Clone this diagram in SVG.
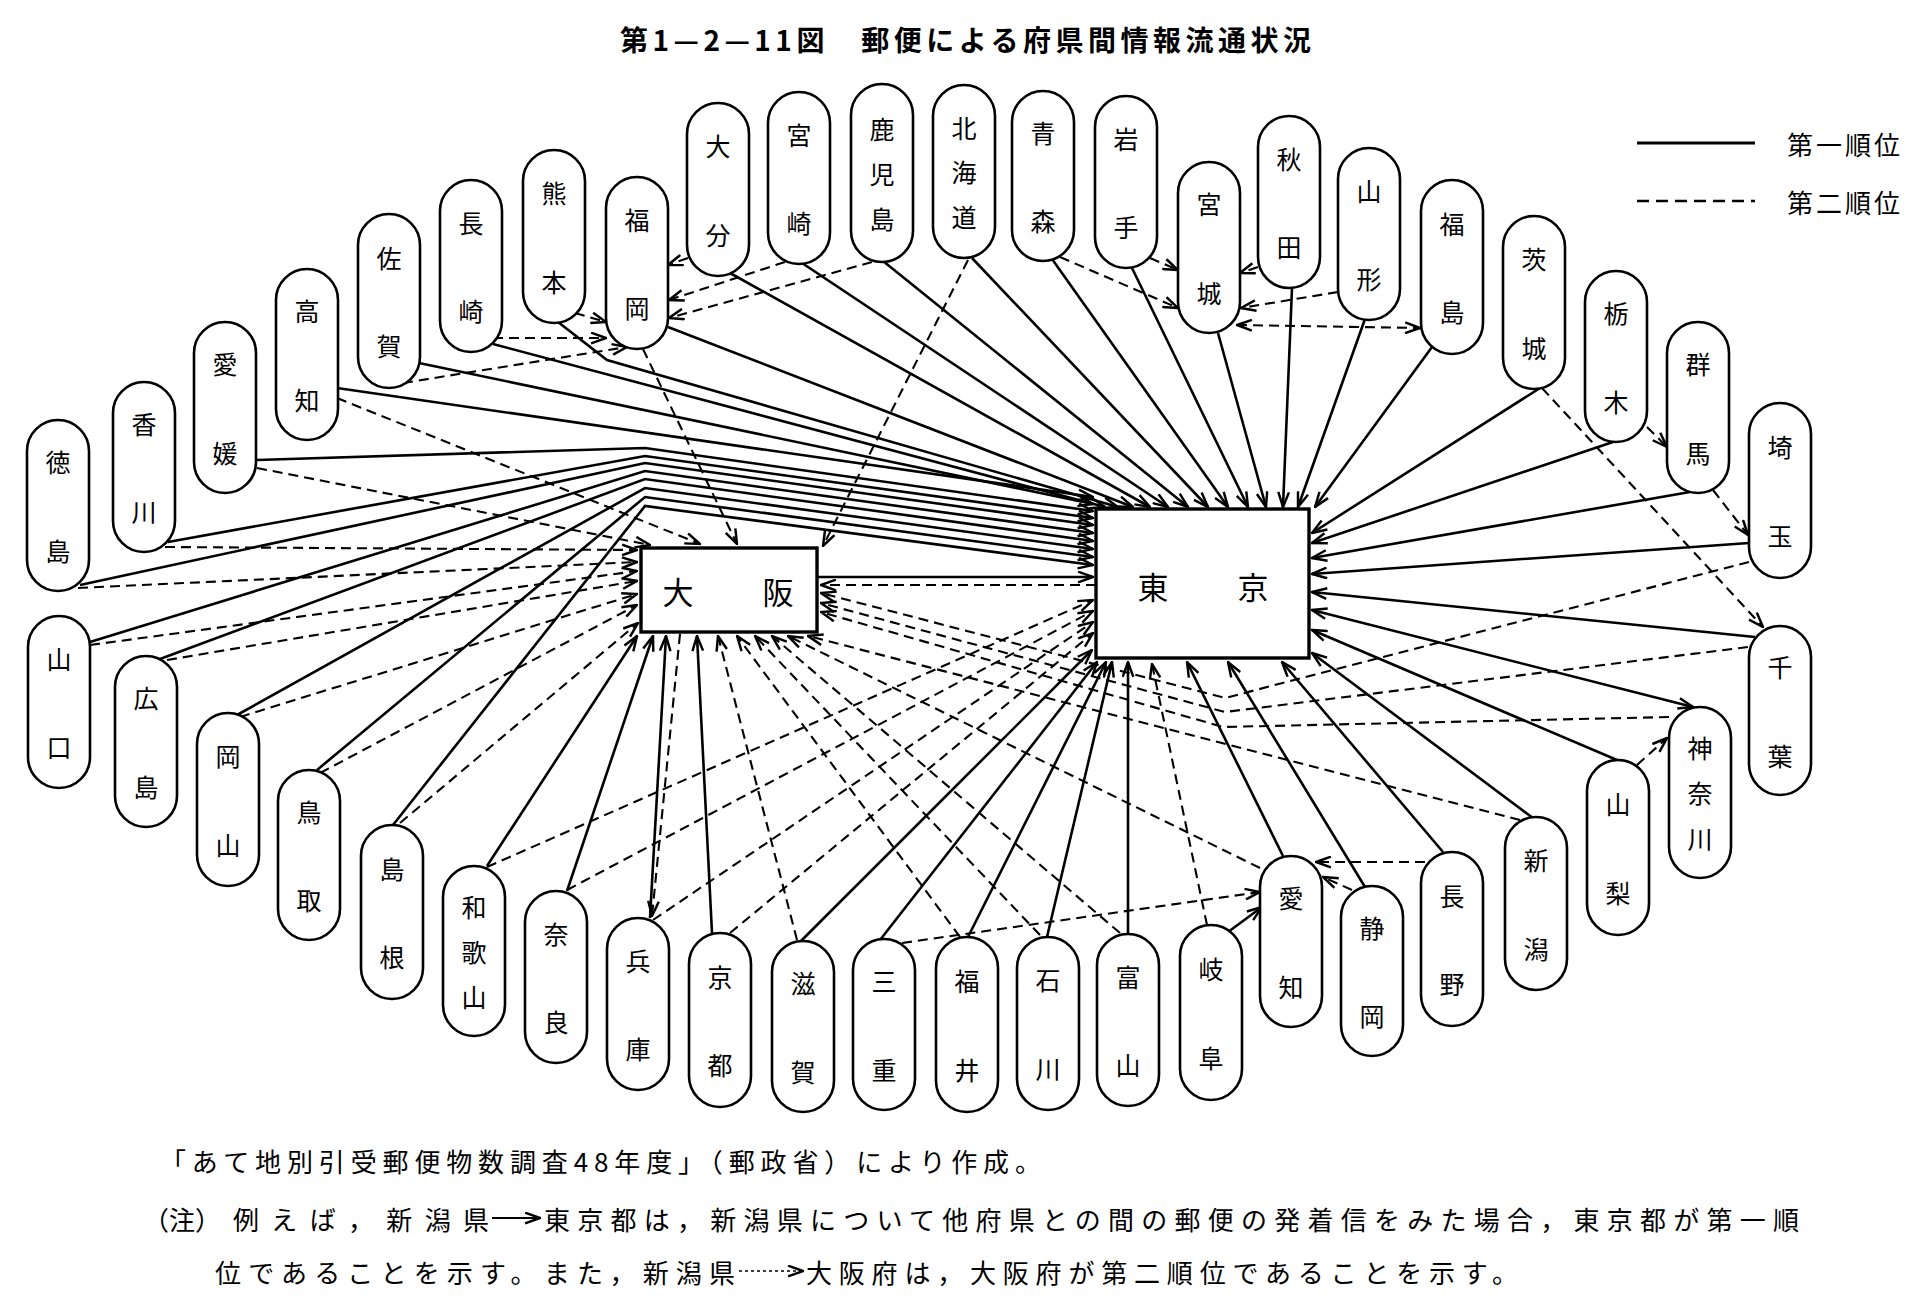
<svg xmlns="http://www.w3.org/2000/svg" width="1925" height="1309" viewBox="0 0 1925 1309">
<style>
.pill{fill:#fff;stroke:#000;stroke-width:2.6}
.box{fill:#fff;stroke:#000;stroke-width:3.4}
.lbl{font-family:"Noto Sans CJK JP",sans-serif;font-size:25px;text-anchor:middle;dominant-baseline:central;fill:#000}
.big{font-family:"Noto Sans CJK JP",sans-serif;font-size:31px;text-anchor:middle;dominant-baseline:central;fill:#000}
.txt{font-family:"Noto Sans CJK JP",sans-serif;font-size:26px;dominant-baseline:central;fill:#000}
.ttl{font-family:"Noto Sans CJK JP",sans-serif;font-size:28px;font-weight:700;dominant-baseline:central;fill:#000}
.s{fill:none;stroke:#000;stroke-width:2.6;marker-end:url(#a)}
.d{fill:none;stroke:#000;stroke-width:2.1;stroke-dasharray:10 6;marker-end:url(#a)}
.both{marker-start:url(#a)}
.ls{fill:none;stroke:#000;stroke-width:2.8}
.ld{fill:none;stroke:#000;stroke-width:2.6;stroke-dasharray:12 7}
</style>
<defs>
<marker id="a" viewBox="0 0 16 12" refX="15" refY="6" markerWidth="17" markerHeight="13" markerUnits="userSpaceOnUse" orient="auto-start-reverse">
<path d="M1,1 L15,6 L1,11" fill="none" stroke="#000" stroke-width="2.3"/>
</marker>
</defs>
<rect width="1925" height="1309" fill="#fff"/>
<text class="ttl" x="620" y="39" textLength="691" lengthAdjust="spacing">第1—2—11図　郵便による府県間情報流通状況</text>

<g id="legend">
<line class="ls" x1="1637" y1="143" x2="1755" y2="143"/>
<text class="txt" x="1787" y="143" font-size="24" textLength="113" lengthAdjust="spacing">第一順位</text>
<line class="ld" x1="1637" y1="201" x2="1755" y2="201"/>
<text class="txt" x="1787" y="201" font-size="24" textLength="113" lengthAdjust="spacing">第二順位</text>
</g>

<g id="connectors">
<path class="s" d="M337,388 L1093,497"/>
<path class="s" d="M419,363 L1093,504"/>
<path class="s" d="M257,460 L645,448 L1093,511"/>
<path class="s" d="M168,542 L645,456 L1093,518"/>
<path class="s" d="M80,585 L645,463 L1093,525"/>
<path class="s" d="M90,642 L645,471 L1093,533"/>
<path class="s" d="M160,659 L645,479 L1093,541"/>
<path class="s" d="M237,715 L645,488 L1093,549"/>
<path class="s" d="M317,770 L645,497 L1093,557"/>
<path class="s" d="M393,825 L645,506 L1093,565"/>
<path class="s" d="M818,577 L1093,577"/>
<path class="s" d="M493,344 L1105,507"/>
<path class="s" d="M558,322 L607,360 L1118,507"/>
<path class="s" d="M668,327 L1133,507"/>
<path class="s" d="M730,273 L1150,507"/>
<path class="s" d="M802,263 L1168,507"/>
<path class="s" d="M883,261 L1188,507"/>
<path class="s" d="M972,258 L1208,507"/>
<path class="s" d="M1052,259 L1228,507"/>
<path class="s" d="M1132,268 L1248,507"/>
<path class="s" d="M1218,333 L1266,507"/>
<path class="s" d="M1292,288 L1283,507"/>
<path class="s" d="M1365,319 L1298,507"/>
<path class="s" d="M1432,347 L1315,507"/>
<path class="s" d="M1540,388 L1312,533"/>
<path class="s" d="M1613,442 L1312,543"/>
<path class="s" d="M1690,492 L1312,558"/>
<path class="s" d="M1749,543 L1312,574"/>
<path class="s" d="M1755,637 L1312,592"/>
<path class="s both" d="M1693,707 L1312,610"/>
<path class="s" d="M1617,760 L1312,630"/>
<path class="s" d="M1533,818 L1312,653"/>
<path class="s" d="M1443,852 L1282,662"/>
<path class="s" d="M1365,887 L1228,662"/>
<path class="s" d="M1283,856 L1187,662"/>
<path class="s" d="M1128,934 L1128,662"/>
<path class="s" d="M1047,937 L1112,662"/>
<path class="s" d="M968,937 L1106,662"/>
<path class="s" d="M880,940 L1097,662"/>
<path class="s" d="M800,942 L1092,650"/>
<path class="s" d="M487,866 L637,636"/>
<path class="s" d="M567,891 L653,636"/>
<path class="s" d="M650,918 L666,636"/>
<path class="s" d="M712,933 L697,636"/>
<path class="s" d="M1228,932 L1262,907"/>

<path class="d" d="M337,398 L700,544"/>
<path class="d" d="M257,468 L650,545"/>
<path class="d" d="M643,349 L737,544"/>
<path class="d" d="M968,260 L823,546"/>
<path class="d" d="M165,547 L637,550"/>
<path class="d" d="M78,588 L637,562"/>
<path class="d" d="M90,645 L637,571"/>
<path class="d" d="M167,660 L637,581"/>
<path class="d" d="M240,717 L637,594"/>
<path class="d" d="M320,773 L637,605"/>
<path class="d" d="M400,823 L638,623"/>
<path class="d" d="M493,338 L606,338"/>
<path class="d" d="M575,313 L606,322"/>
<path class="d" d="M403,383 L627,347"/>
<path class="d" d="M688,258 L668,265"/>
<path class="d" d="M785,262 L669,300"/>
<path class="d" d="M872,262 L669,318"/>
<path class="d" d="M1060,257 L1178,308"/>
<path class="d" d="M1150,258 L1178,270"/>
<path class="d" d="M1258,267 L1240,273"/>
<path class="d" d="M1338,292 L1241,308"/>
<path class="d both" d="M1237,325 L1420,328"/>
<path class="d" d="M1542,388 L1763,627"/>
<path class="d" d="M1647,427 L1667,447"/>
<path class="d" d="M1713,490 L1748,535"/>
<path class="d" d="M1749,562 L1225,698 L821,593"/>
<path class="d" d="M1748,647 L1225,712 L821,603"/>
<path class="d" d="M1669,717 L1223,727 L821,612"/>
<path class="d" d="M1637,765 L1667,738"/>
<path class="d" d="M1520,820 L808,636"/>
<path class="d" d="M1425,862 L1316,862"/>
<path class="d" d="M1352,890 L1323,877"/>
<path class="d" d="M1260,868 L788,636"/>
<path class="d" d="M1207,925 L1180,797 L1152,664"/>
<path class="d" d="M1120,933 L772,636"/>
<path class="d" d="M1040,935 L755,636"/>
<path class="d" d="M960,937 L737,636"/>
<path class="d" d="M902,943 L1260,892"/>
<path class="d" d="M797,940 L718,636"/>
<path class="d" d="M730,933 L1093,633"/>
<path class="d" d="M653,920 L1093,622"/>
<path class="d" d="M567,890 L1093,611"/>
<path class="d" d="M487,867 L1093,600"/>
<path class="d" d="M680,634 L652,916"/>
<path class="d" d="M1096,585 L821,585"/>
</g>

<g id="osaka"><rect class="box" x="641" y="548" width="176" height="84"/><text class="big" x="678" y="590">大</text><text class="big" x="778" y="590">阪</text></g>
<g id="tokyo"><rect class="box" x="1096" y="509" width="213" height="149"/><text class="big" x="1153" y="585">東</text><text class="big" x="1253" y="585">京</text></g>

<g id="n-tokushima"><rect class="pill" x="27" y="420" width="62" height="171" rx="31"/><text class="lbl"><tspan x="58" y="461">徳</tspan><tspan x="58" y="550">島</tspan></text></g>
<g id="n-kagawa"><rect class="pill" x="113" y="382" width="62" height="170" rx="31"/><text class="lbl"><tspan x="144" y="423">香</tspan><tspan x="144" y="511">川</tspan></text></g>
<g id="n-ehime"><rect class="pill" x="194" y="322" width="62" height="171" rx="31"/><text class="lbl"><tspan x="225" y="363">愛</tspan><tspan x="225" y="452">媛</tspan></text></g>
<g id="n-kochi"><rect class="pill" x="276" y="269" width="62" height="171" rx="31"/><text class="lbl"><tspan x="307" y="310">高</tspan><tspan x="307" y="399">知</tspan></text></g>
<g id="n-saga"><rect class="pill" x="358" y="214" width="62" height="174" rx="31"/><text class="lbl"><tspan x="389" y="257">佐</tspan><tspan x="389" y="345">賀</tspan></text></g>
<g id="n-nagasaki"><rect class="pill" x="440" y="180" width="62" height="172" rx="31"/><text class="lbl"><tspan x="471" y="222">長</tspan><tspan x="471" y="310">崎</tspan></text></g>
<g id="n-kumamoto"><rect class="pill" x="523" y="150" width="62" height="173" rx="31"/><text class="lbl"><tspan x="554" y="192">熊</tspan><tspan x="554" y="281">本</tspan></text></g>
<g id="n-fukuoka"><rect class="pill" x="606" y="177" width="62" height="172" rx="31"/><text class="lbl"><tspan x="637" y="219">福</tspan><tspan x="637" y="307">岡</tspan></text></g>
<g id="n-oita"><rect class="pill" x="687" y="103" width="62" height="173" rx="31"/><text class="lbl"><tspan x="718" y="145">大</tspan><tspan x="718" y="234">分</tspan></text></g>
<g id="n-miyazaki"><rect class="pill" x="768" y="92" width="62" height="172" rx="31"/><text class="lbl"><tspan x="799" y="134">宮</tspan><tspan x="799" y="222">崎</tspan></text></g>
<g id="n-kagoshima"><rect class="pill" x="851" y="84" width="62" height="178" rx="31"/><text class="lbl"><tspan x="882" y="128">鹿</tspan><tspan x="882" y="173">児</tspan><tspan x="882" y="218">島</tspan></text></g>
<g id="n-hokkaido"><rect class="pill" x="933" y="85" width="62" height="173" rx="31"/><text class="lbl"><tspan x="964" y="127">北</tspan><tspan x="964" y="171">海</tspan><tspan x="964" y="216">道</tspan></text></g>
<g id="n-aomori"><rect class="pill" x="1012" y="91" width="62" height="170" rx="31"/><text class="lbl"><tspan x="1043" y="132">青</tspan><tspan x="1043" y="220">森</tspan></text></g>
<g id="n-iwate"><rect class="pill" x="1095" y="96" width="62" height="172" rx="31"/><text class="lbl"><tspan x="1126" y="138">岩</tspan><tspan x="1126" y="226">手</tspan></text></g>
<g id="n-miyagi"><rect class="pill" x="1178" y="162" width="62" height="171" rx="31"/><text class="lbl"><tspan x="1209" y="203">宮</tspan><tspan x="1209" y="292">城</tspan></text></g>
<g id="n-akita"><rect class="pill" x="1258" y="116" width="62" height="172" rx="31"/><text class="lbl"><tspan x="1289" y="158">秋</tspan><tspan x="1289" y="246">田</tspan></text></g>
<g id="n-yamagata"><rect class="pill" x="1338" y="148" width="62" height="172" rx="31"/><text class="lbl"><tspan x="1369" y="190">山</tspan><tspan x="1369" y="278">形</tspan></text></g>
<g id="n-fukushima"><rect class="pill" x="1421" y="180" width="62" height="174" rx="31"/><text class="lbl"><tspan x="1452" y="223">福</tspan><tspan x="1452" y="311">島</tspan></text></g>
<g id="n-ibaraki"><rect class="pill" x="1503" y="216" width="62" height="173" rx="31"/><text class="lbl"><tspan x="1534" y="258">茨</tspan><tspan x="1534" y="347">城</tspan></text></g>
<g id="n-tochigi"><rect class="pill" x="1585" y="271" width="62" height="171" rx="31"/><text class="lbl"><tspan x="1616" y="312">栃</tspan><tspan x="1616" y="401">木</tspan></text></g>
<g id="n-gunma"><rect class="pill" x="1667" y="322" width="62" height="171" rx="31"/><text class="lbl"><tspan x="1698" y="363">群</tspan><tspan x="1698" y="452">馬</tspan></text></g>
<g id="n-saitama"><rect class="pill" x="1749" y="403" width="62" height="175" rx="31"/><text class="lbl"><tspan x="1780" y="446">埼</tspan><tspan x="1780" y="535">玉</tspan></text></g>
<g id="n-chiba"><rect class="pill" x="1749" y="626" width="62" height="169" rx="31"/><text class="lbl"><tspan x="1780" y="666">千</tspan><tspan x="1780" y="755">葉</tspan></text></g>
<g id="n-kanagawa"><rect class="pill" x="1669" y="707" width="62" height="171" rx="31"/><text class="lbl"><tspan x="1700" y="747">神</tspan><tspan x="1700" y="792">奈</tspan><tspan x="1700" y="838">川</tspan></text></g>
<g id="n-yamanashi"><rect class="pill" x="1587" y="760" width="62" height="175" rx="31"/><text class="lbl"><tspan x="1618" y="803">山</tspan><tspan x="1618" y="892">梨</tspan></text></g>
<g id="n-niigata"><rect class="pill" x="1505" y="817" width="62" height="173" rx="31"/><text class="lbl"><tspan x="1536" y="859">新</tspan><tspan x="1536" y="948">潟</tspan></text></g>
<g id="n-nagano"><rect class="pill" x="1421" y="852" width="62" height="174" rx="31"/><text class="lbl"><tspan x="1452" y="895">長</tspan><tspan x="1452" y="983">野</tspan></text></g>
<g id="n-shizuoka"><rect class="pill" x="1341" y="886" width="62" height="170" rx="31"/><text class="lbl"><tspan x="1372" y="927">静</tspan><tspan x="1372" y="1015">岡</tspan></text></g>
<g id="n-aichi"><rect class="pill" x="1260" y="856" width="62" height="171" rx="31"/><text class="lbl"><tspan x="1291" y="897">愛</tspan><tspan x="1291" y="986">知</tspan></text></g>
<g id="n-gifu"><rect class="pill" x="1180" y="925" width="62" height="175" rx="31"/><text class="lbl"><tspan x="1211" y="968">岐</tspan><tspan x="1211" y="1057">阜</tspan></text></g>
<g id="n-toyama"><rect class="pill" x="1097" y="934" width="62" height="172" rx="31"/><text class="lbl"><tspan x="1128" y="976">富</tspan><tspan x="1128" y="1064">山</tspan></text></g>
<g id="n-ishikawa"><rect class="pill" x="1017" y="937" width="62" height="173" rx="31"/><text class="lbl"><tspan x="1048" y="979">石</tspan><tspan x="1048" y="1068">川</tspan></text></g>
<g id="n-fukui"><rect class="pill" x="936" y="937" width="62" height="175" rx="31"/><text class="lbl"><tspan x="967" y="980">福</tspan><tspan x="967" y="1069">井</tspan></text></g>
<g id="n-mie"><rect class="pill" x="853" y="939" width="62" height="171" rx="31"/><text class="lbl"><tspan x="884" y="980">三</tspan><tspan x="884" y="1069">重</tspan></text></g>
<g id="n-shiga"><rect class="pill" x="772" y="941" width="62" height="171" rx="31"/><text class="lbl"><tspan x="803" y="982">滋</tspan><tspan x="803" y="1071">賀</tspan></text></g>
<g id="n-kyoto"><rect class="pill" x="689" y="933" width="62" height="174" rx="31"/><text class="lbl"><tspan x="720" y="976">京</tspan><tspan x="720" y="1064">都</tspan></text></g>
<g id="n-hyogo"><rect class="pill" x="607" y="918" width="62" height="172" rx="31"/><text class="lbl"><tspan x="638" y="960">兵</tspan><tspan x="638" y="1048">庫</tspan></text></g>
<g id="n-nara"><rect class="pill" x="525" y="891" width="62" height="172" rx="31"/><text class="lbl"><tspan x="556" y="933">奈</tspan><tspan x="556" y="1021">良</tspan></text></g>
<g id="n-wakayama"><rect class="pill" x="443" y="866" width="62" height="170" rx="31"/><text class="lbl"><tspan x="474" y="906">和</tspan><tspan x="474" y="951">歌</tspan><tspan x="474" y="996">山</tspan></text></g>
<g id="n-shimane"><rect class="pill" x="361" y="825" width="62" height="174" rx="31"/><text class="lbl"><tspan x="392" y="868">島</tspan><tspan x="392" y="956">根</tspan></text></g>
<g id="n-tottori"><rect class="pill" x="278" y="770" width="62" height="170" rx="31"/><text class="lbl"><tspan x="309" y="811">鳥</tspan><tspan x="309" y="899">取</tspan></text></g>
<g id="n-okayama"><rect class="pill" x="197" y="713" width="62" height="173" rx="31"/><text class="lbl"><tspan x="228" y="755">岡</tspan><tspan x="228" y="844">山</tspan></text></g>
<g id="n-hiroshima"><rect class="pill" x="115" y="656" width="62" height="171" rx="31"/><text class="lbl"><tspan x="146" y="697">広</tspan><tspan x="146" y="786">島</tspan></text></g>
<g id="n-yamaguchi"><rect class="pill" x="28" y="616" width="62" height="172" rx="31"/><text class="lbl"><tspan x="59" y="658">山</tspan><tspan x="59" y="746">口</tspan></text></g>

<g id="footnote">
<text class="txt" x="160" y="1160" textLength="881" lengthAdjust="spacing">「あて地別引受郵便物数調査48年度」（郵政省）により作成。</text>
<text class="txt" x="143" y="1218">（注）</text>
<text class="txt" x="233" y="1218" textLength="256" lengthAdjust="spacing">例えば，新潟県</text>
<line x1="492" y1="1218" x2="540" y2="1218" style="fill:none;stroke:#000;stroke-width:1.8;marker-end:url(#a)"/>
<text class="txt" x="544" y="1218" textLength="1255" lengthAdjust="spacing">東京都は，新潟県について他府県との間の郵便の発着信をみた場合，東京都が第一順</text>
<text class="txt" x="215" y="1271" textLength="520" lengthAdjust="spacing">位であることを示す。また，新潟県</text>
<line x1="739" y1="1271" x2="803" y2="1271" style="fill:none;stroke:#000;stroke-width:1.6;stroke-dasharray:3 3;marker-end:url(#a)"/>
<text class="txt" x="806" y="1271" textLength="712" lengthAdjust="spacing">大阪府は，大阪府が第二順位であることを示す。</text>
</g>
</svg>
